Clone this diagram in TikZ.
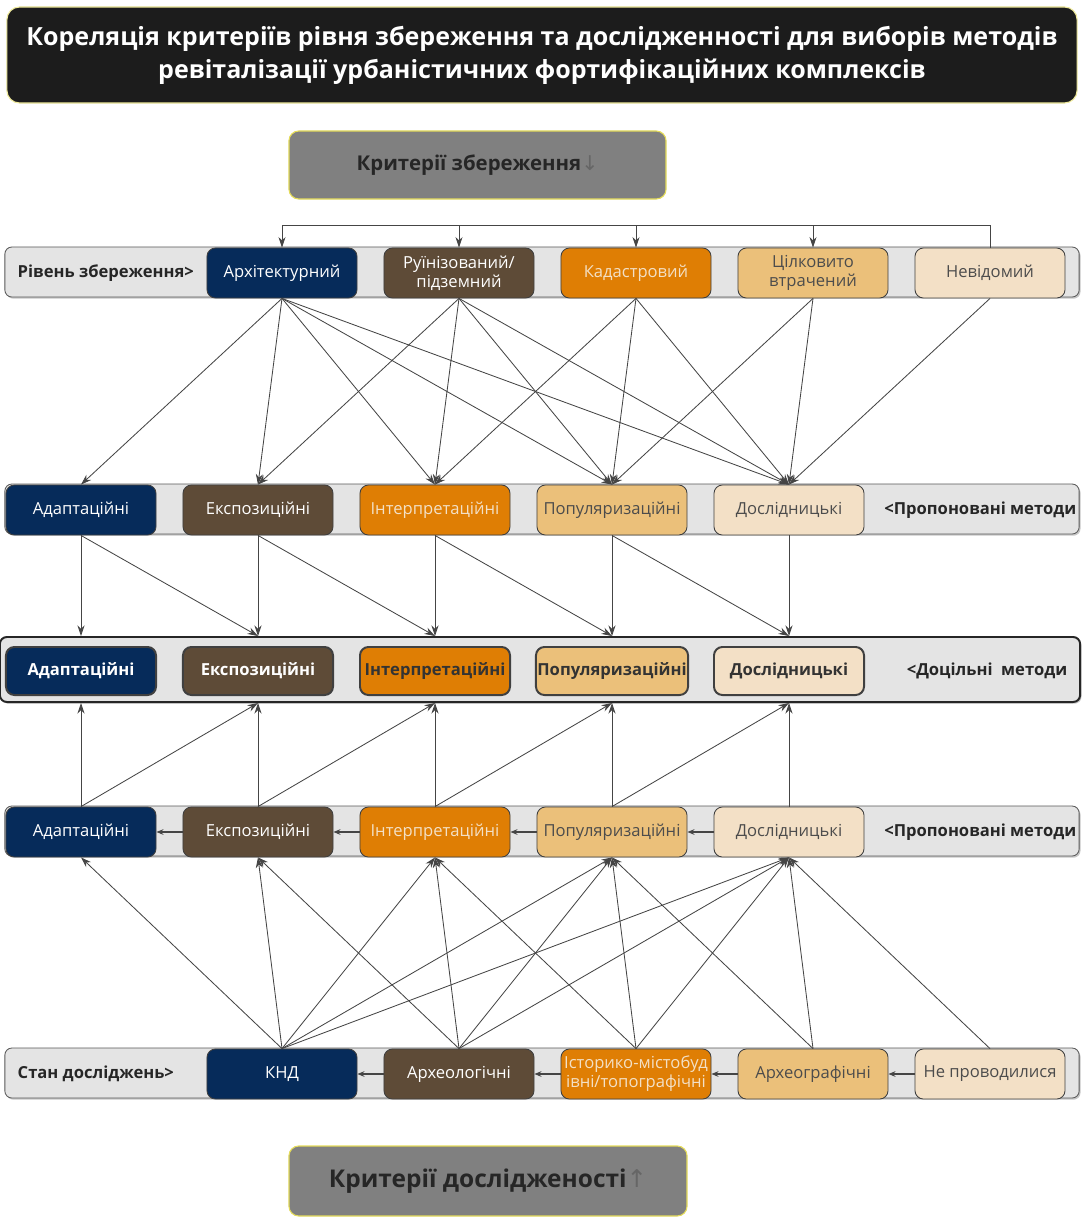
\documentclass[tikz,border=0pt]{standalone}
\usepackage{fontspec}
\setmainfont{Open Sans}
\newfontfamily\arrowfont{DejaVu Sans}
\usetikzlibrary{arrows.meta,positioning,shadows}

\definecolor{navy}{HTML}{062B5A}
\definecolor{brown}{HTML}{5E4B37}
\definecolor{orange}{HTML}{DF7E04}
\definecolor{tan}{HTML}{EBC07A}
\definecolor{pale}{HTML}{F3E0C6}
\definecolor{stripfill}{HTML}{E4E4E4}
\definecolor{titlebg}{HTML}{1C1C1C}
\definecolor{yellowline}{HTML}{E5DC5A}
\definecolor{arrowgray}{HTML}{454545}

\begin{document}
\begin{tikzpicture}[x=0.025cm, y=-0.025cm,
  every node/.style={align=center, inner sep=1pt, font=\fontsize{11.8}{13.5}\selectfont},
  strip/.style={draw=black!65, fill=stripfill, rounded corners=5pt, line width=0.6pt,
    minimum width=26.85cm, minimum height=1.25cm,
    drop shadow={opacity=0.45, shadow xshift=1pt, shadow yshift=-1.2pt}},
  box/.style={draw=black!75, rounded corners=6pt, line width=0.6pt,
    minimum width=3.75cm, minimum height=1.25cm},
  goal/.style={box, line width=1.4pt, minimum height=1.2cm,
    font=\bfseries\fontsize{11.8}{13.5}\selectfont},
  lbl/.style={font=\bfseries\fontsize{11.8}{13.5}\selectfont, text=black!85},
  head/.style={fill=black!50, draw=yellowline, line width=0.8pt,
    rounded corners=7pt, text=black!85},
  c1/.style={fill=navy, text=white},
  c2/.style={fill=brown, text=white},
  c3/.style={fill=orange, text=pale},
  c4/.style={fill=tan, text=black!70},
  c5/.style={fill=pale, text=black!70},
  arr/.style={draw=arrowgray, line width=0.6pt, -{Stealth[length=7.5pt,width=5pt]}},
  harr/.style={arr, line width=0.9pt, -{Stealth[length=5pt,width=4pt]}}]

\useasboundingbox (0,0) rectangle (1081,1224);

% title and criteria headers
\node[fill=titlebg, draw=yellowline!60, line width=0.8pt, rounded corners=9pt,
  minimum width=26.75cm, minimum height=2.4cm, text=white,
  font=\bfseries\fontsize{17.8}{23.5}\selectfont] (title) at (542,55)
  {Кореляція критеріїв рівня збереження та дослідженності для виборів методів\\
   ревіталізації урбаністичних фортифікаційних комплексів};
\node[head, minimum width=9.425cm, minimum height=1.7cm,
  font=\bfseries\fontsize{14.5}{16}\selectfont] (hp) at (477.5,165)
  {Критерії збереження{\arrowfont\mdseries\color{black!60}↓}};
\node[head, minimum width=9.95cm, minimum height=1.75cm,
  font=\bfseries\fontsize{17.4}{19}\selectfont] (hr) at (488,1181)
  {Критерії дослідженості{\arrowfont\mdseries\color{black!60}↑}};

% strips
\node[strip] (sp) at (542,272) {};
\node[strip] (sm) at (542,509) {};
\node[strip, draw=black!85, line width=1.4pt, minimum width=27cm, minimum height=1.625cm] (st) at (540,669.5) {};
\node[strip] (sn) at (542,831) {};
\node[strip] (sr) at (542,1073) {};

\node[lbl, anchor=west] (lp) at (16,273) {Рівень збереження>};
\node[lbl, anchor=east] (lm) at (1078,510) {<Пропоновані методи};
\node[lbl, anchor=east] (lt) at (1069,670.5) {<Доцільні\ \ методи};
\node[lbl, anchor=east] (ln) at (1078,832) {<Пропоновані методи};
\node[lbl, anchor=west] (lr) at (16,1074) {Стан досліджень>};

% level of preservation
\foreach \t/\s [count=\i] in {Архітектурний/c1, {Руїнізований/\\підземний}/c2,
    Кадастровий/c3, {Цілковито\\втрачений}/c4, Невідомий/c5}
  \node[box, \s] (p\i) at ({282+177*(\i-1)},273) {\t};

% state of research
\foreach \t/\s [count=\i] in {КНД/c1, Археологічні/c2,
    {Історико-містобуд\\івні/топографічні}/c3, Археографічні/c4, Не проводилися/c5}
  \node[box, \s] (r\i) at ({282+177*(\i-1)},1074) {\t};

% methods
\foreach \t/\s/\g [count=\i] in {Адаптаційні/c1/white, Експозиційні/c2/white,
    Інтерпретаційні/c3/black!80, Популяризаційні/c4/black!80, Дослідницькі/c5/black!80} {
  \node[box, \s] (m\i) at ({81+177*(\i-1)},510) {\t};
  \node[goal, \s, text=\g] (t\i) at ({81+177*(\i-1)},671) {\t};
  \node[box, \s] (n\i) at ({81+177*(\i-1)},832) {\t};
}

% top bus
\coordinate (bus) at (0,225);
\draw[arr] (p5.north) |- (bus -| p1.north) -- (p1.north);
\foreach \i in {2,3,4}
  \draw[arr] (bus -| p\i.north) -- (p\i.north);

% preservation -> proposed, research -> proposed
\foreach \i in {1,...,5}
  \foreach \j in {\i,...,5} {
    \draw[arr] (p\i.south) -- (m\j.north);
    \draw[arr] (r\i.north) -- (n\j.south);
  }

% proposed -> target
\foreach \i in {1,...,5} {
  \draw[arr] (m\i.south) -- (m\i.south |- st.north);
  \draw[arr] (n\i.north) -- (n\i.north |- st.south);
}
\foreach \i [evaluate=\i as \j using int(\i+1)] in {1,...,4} {
  \draw[arr] (m\i.south) -- (t\j.north |- st.north);
  \draw[arr] (n\i.north) -- (t\j.south |- st.south);
  \draw[harr] (n\j.west) -- (n\i.east);
  \draw[harr] (r\j.west) -- (r\i.east);
}
\end{tikzpicture}
\end{document}
